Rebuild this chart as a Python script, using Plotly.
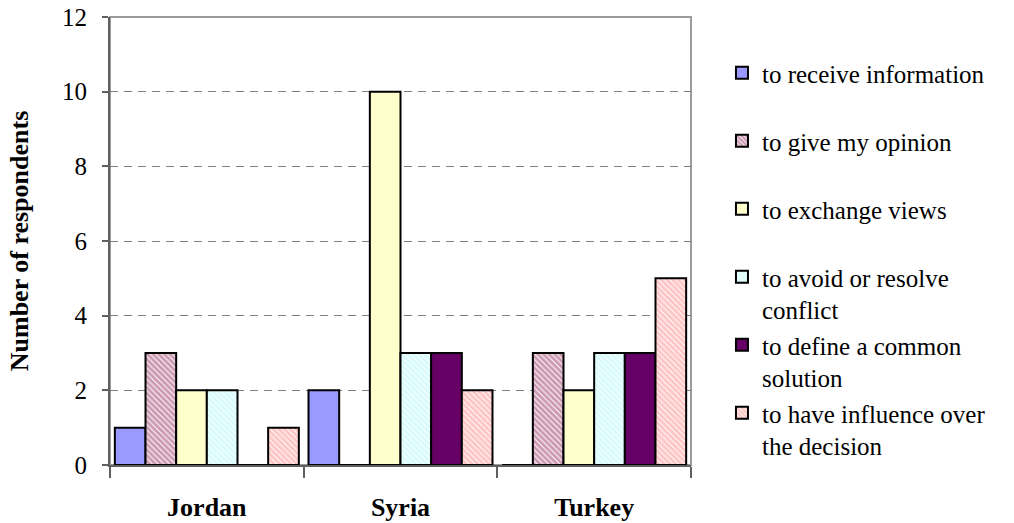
import plotly.graph_objects as go

# Countries (x categories)
countries = ["Jordan", "Syria", "Turkey"]

# Reasons for participating (series names)
reasons = [
    "to receive information",
    "to give my opinion",
    "to exchange views",
    "to avoid or resolve<br>conflict",
    "to define a common<br>solution",
    "to have influence over<br>the decision",
]

# Number of respondents per reason, by country
receive_information = [1, 2, 0]
give_opinion = [3, 0, 3]
exchange_views = [2, 10, 2]
avoid_conflict = [2, 3, 3]
common_solution = [0, 3, 3]
influence_decision = [1, 2, 5]

y_ticks = [0, 2, 4, 6, 8, 10, 12]

series = [receive_information, give_opinion, exchange_views,
          avoid_conflict, common_solution, influence_decision]


def hatch(fg):
    return dict(shape="\\", fgcolor=fg, bgcolor="#FFFFFF",
                size=4, solidity=0.75, fillmode="overlay")


# Fill styles per series
styles = [
    dict(color="#9999FF"),
    dict(color="#FFFFFF", pattern=hatch("#993366")),
    dict(color="#FFFFCC"),
    dict(color="#FFFFFF", pattern=hatch("#B0F8F8")),
    dict(color="#660066"),
    dict(color="#FFFFFF", pattern=hatch("#FF8A8A")),
]

FONT = "Liberation Serif"

fig = go.Figure()
for i, (name, vals, st) in enumerate(zip(reasons, series, styles)):
    # single-line entries get a blank second line so all legend rows share one height
    label = name if "<br>" in name else name + "<br> "
    marker = dict(color=st["color"], line=dict(color="#000000", width=2))
    if "pattern" in st:
        marker["pattern"] = st["pattern"]
    fig.add_trace(go.Bar(
        x=countries, y=vals, name=label, marker=marker,
        legendgroup=f"g{i}",
    ))

fig.update_layout(
    template="none",
    width=1014, height=523,
    margin=dict(l=110, r=323, t=17, b=58),
    paper_bgcolor="white", plot_bgcolor="white",
    barmode="group", bargap=0.05, bargroupgap=0,
    font=dict(family=FONT, color="#000000"),
    legend=dict(
        xref="container", yref="container",
        x=0.712, y=1 - 50 / 523, xanchor="left", yanchor="top",
        font=dict(family=FONT, size=25, color="#000000"),
        traceorder="grouped", tracegroupgap=0, valign="top",
        bgcolor="rgba(0,0,0,0)", itemwidth=30, maxheight=510,
    ),
    shapes=[dict(type="rect", xref="paper", yref="paper", x0=0, y0=0, x1=1, y1=1,
                 line=dict(color="#9A9A9A", width=2), layer="below")],
)

fig.update_xaxes(
    type="category", tickson="boundaries", automargin=False,
    ticks="outside", ticklen=11, tickwidth=1.5, tickcolor="#606060",
    showline=True, linecolor="#606060", linewidth=2,
    tickfont=dict(family=FONT, size=26, color="#000000", weight="bold"),
    ticklabelstandoff=18, showgrid=False, zeroline=False,
)
fig.update_yaxes(
    range=[0, 12], tickvals=y_ticks, ticktext=[str(v) for v in y_ticks],
    automargin=False,
    ticks="outside", ticklen=6, tickwidth=1.5, tickcolor="#606060",
    showline=True, linecolor="#606060", linewidth=2,
    tickfont=dict(family=FONT, size=25, color="#000000"),
    ticklabelstandoff=10,
    showgrid=True, gridcolor="#7F7F7F", gridwidth=1, griddash="8px,6px",
    zeroline=False,
    title=dict(text="Number of respondents", standoff=26,
               font=dict(family=FONT, size=26, color="#000000", weight="bold")),
)

fig.write_html("out.html")
